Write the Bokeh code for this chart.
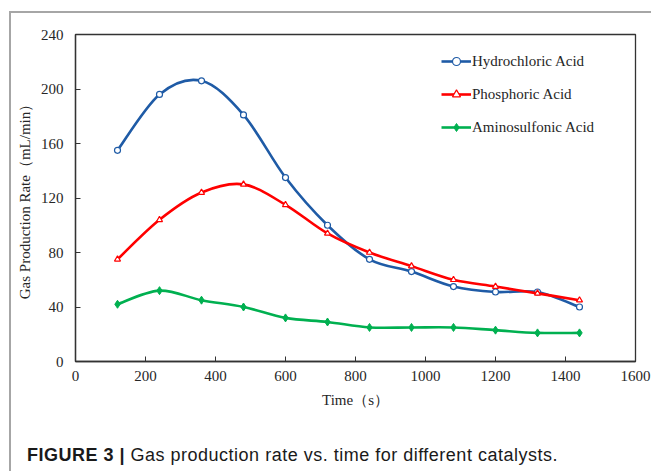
from bokeh.plotting import figure
from bokeh.layouts import column
from bokeh.models import (Range1d, FixedTicker, Legend, LegendItem, Div,
                          ColumnDataSource)
from bokeh.embed import file_html
from bokeh.resources import INLINE

# Sampling times (s) and gas production rates (mL/min)
time_s = [120, 240, 360, 480, 600, 720, 840, 960, 1080, 1200, 1320, 1440]
hydrochloric = [155, 196, 206, 181, 135, 100, 75, 66, 55, 51, 51, 40]
phosphoric = [75, 104, 124, 130, 115, 94, 80, 70, 60, 55, 50, 45]
aminosulfonic = [42, 52, 45, 40, 32, 29, 25, 25, 25, 23, 21, 21]

series_names = ["Hydrochloric Acid", "Phosphoric Acid", "Aminosulfonic Acid"]
series_colors = ["#1F5BA6", "#FF0000", "#00B050"]

x_ticks = [0, 200, 400, 600, 800, 1000, 1200, 1400, 1600]
y_ticks = [0, 40, 80, 120, 160, 200, 240]

SERIF = "Liberation Serif"
SANS = "Liberation Sans"
INK = "#262626"


def smooth_segments(xs, ys):
    """Cubic Bezier segments through every point (Catmull-Rom style smoothing)."""
    n = len(xs)
    seg = dict(x0=[], y0=[], x1=[], y1=[], cx0=[], cy0=[], cx1=[], cy1=[])
    for i in range(n - 1):
        a = max(i - 1, 0)
        b = min(i + 2, n - 1)
        seg["x0"].append(xs[i]); seg["y0"].append(ys[i])
        seg["x1"].append(xs[i + 1]); seg["y1"].append(ys[i + 1])
        seg["cx0"].append(xs[i] + (xs[i + 1] - xs[a]) / 6)
        seg["cy0"].append(ys[i] + (ys[i + 1] - ys[a]) / 6)
        seg["cx1"].append(xs[i + 1] - (xs[b] - xs[i]) / 6)
        seg["cy1"].append(ys[i + 1] - (ys[b] - ys[i]) / 6)
    return ColumnDataSource(seg)


p = figure(width=640, height=407, output_backend="svg", toolbar_location=None,
           x_range=Range1d(0, 1600), y_range=Range1d(0, 240),
           min_border_left=64, min_border_right=16,
           min_border_top=21, min_border_bottom=59, margin=0)

p.background_fill_color = "white"
p.border_fill_color = "white"
p.grid.visible = False
p.outline_line_color = "#333333"
p.outline_line_width = 1.3

for ax in (p.xaxis[0], p.yaxis[0]):
    ax.axis_line_color = "#333333"
    ax.axis_line_width = 1.3
    ax.major_tick_in = 5
    ax.major_tick_out = 0
    ax.major_tick_line_color = "#333333"
    ax.minor_tick_line_color = None
    ax.major_label_text_font = SERIF
    ax.major_label_text_font_size = "15px"
    ax.major_label_text_color = INK
    ax.axis_label_text_font = SERIF
    ax.axis_label_text_font_size = "15px"
    ax.axis_label_text_font_style = "normal"
    ax.axis_label_text_color = INK

p.xaxis.ticker = FixedTicker(ticks=x_ticks)
p.yaxis.ticker = FixedTicker(ticks=y_ticks)
p.xaxis.major_label_standoff = 9
p.yaxis.major_label_standoff = 12
p.xaxis.axis_label = "Time（s）"
p.yaxis.axis_label = "Gas Production Rate（mL/min）"
p.xaxis.axis_label_standoff = 8
p.yaxis.axis_label_standoff = 5

items = []
for name, color, ys, marker in zip(series_names, series_colors,
                                   [hydrochloric, phosphoric, aminosulfonic],
                                   ["circle", "triangle", "diamond"]):
    src = smooth_segments(time_s, ys)
    curve = p.bezier(x0="x0", y0="y0", x1="x1", y1="y1", cx0="cx0", cy0="cy0",
                     cx1="cx1", cy1="cy1", source=src, line_color=color, line_width=2.6)
    if marker == "diamond":
        pts = p.scatter(time_s, ys, marker=marker, size=8, line_color=color,
                        fill_color=color, line_width=1)
    else:
        pts = p.scatter(time_s, ys, marker=marker, size=6, line_color=color,
                        fill_color="white", line_width=1.2)
    items.append(LegendItem(label=name, renderers=[curve, pts]))

legend = Legend(items=items, location=(366, 224), orientation="vertical",
                label_text_font=SERIF, label_text_font_size="15px",
                label_text_color=INK, glyph_width=30, glyph_height=20,
                label_height=20, label_standoff=1, spacing=13, padding=0,
                margin=0, background_fill_alpha=0, border_line_alpha=0)
p.add_layout(legend)

# Figure caption under the chart
caption = Div(
    text=('<span style="font-weight:bold">FIGURE 3 |</span> '
          'Gas production rate vs. time for different catalysts.'),
    width=640, height=51, margin=0,
    styles={"font-family": SANS, "font-size": "18px", "color": "#1a1a1a",
            "letter-spacing": "0.5px", "white-space": "nowrap",
            "padding-left": "16px", "padding-top": "25px",
            "line-height": "20px", "box-sizing": "border-box"})

# Page frame: grey rule along the top and left edges
page = column(p, caption, margin=(11, 0, 0, 9), spacing=0,
              styles={"border-top": "2px solid #a6a6a6",
                      "border-left": "2px solid #a6a6a6",
                      "background-color": "white"})

open("out.html", "w").write(file_html(page, INLINE))
